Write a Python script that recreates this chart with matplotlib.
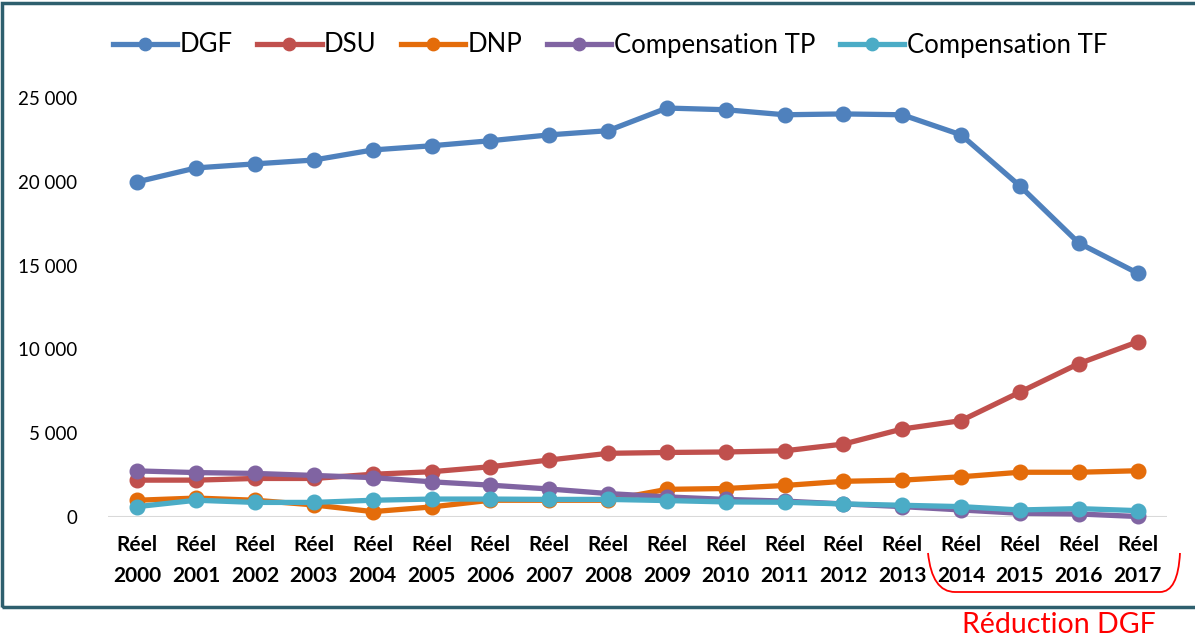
import matplotlib
matplotlib.use("Agg")
import matplotlib.pyplot as plt
from matplotlib.path import Path
from matplotlib.patches import PathPatch, Rectangle
from matplotlib.ticker import FuncFormatter

plt.rcParams['font.family'] = ['Lato', 'DejaVu Sans']

# données (millions d'euros)
annees = ["Réel\n%d" % a for a in range(2000, 2018)]
dgf = [20000, 20830, 21070, 21300, 21900, 22150, 22450, 22800, 23050,
       24400, 24300, 24000, 24050, 24000, 22800, 19750, 16350, 14550]
dsu = [2200, 2200, 2300, 2300, 2550, 2700, 3000, 3400, 3800,
       3850, 3880, 3950, 4350, 5250, 5750, 7450, 9150, 10450]
dnp = [1000, 1130, 1000, 720, 320, 600, 1000, 1000, 1000,
       1650, 1700, 1880, 2130, 2200, 2400, 2670, 2670, 2760]
comp_tp = [2750, 2650, 2600, 2480, 2350, 2100, 1900, 1670, 1400,
           1200, 1050, 950, 780, 620, 420, 220, 180, 30]
comp_tf = [620, 1000, 870, 870, 1000, 1070, 1070, 1050, 1050,
           980, 900, 880, 780, 700, 620, 420, 500, 380]

series = [("DGF", dgf, "#4F81BD"),
          ("DSU", dsu, "#C0504D"),
          ("DNP", dnp, "#E46C0A"),
          ("Compensation TP", comp_tp, "#8064A2"),
          ("Compensation TF", comp_tf, "#4BACC6")]

W, H = 1195, 640
fig = plt.figure(figsize=(W / 100, H / 100), dpi=100)
ax = fig.add_axes([108 / W, 1 - 517 / H, (1167 - 108) / W, (517 - 98) / H])

x = range(len(annees))
for nom, vals, col in series:
    ax.plot(x, vals, '-o', color=col, lw=3.8, ms=10.5, label=nom, clip_on=False)

ax.set_xlim(-0.5, len(annees) - 0.5)
ax.set_ylim(0, 25000)
ax.set_yticks(range(0, 25001, 5000))
ax.yaxis.set_major_formatter(FuncFormatter(lambda v, p: "{:,}".format(int(v)).replace(",", " ")))
ax.set_xticks(list(x))
ax.set_xticklabels(annees, fontweight='bold', fontsize=15, linespacing=1.7)
ax.tick_params(axis='y', labelsize=13.5, length=0, pad=22)
ax.tick_params(axis='x', length=0, pad=13)
for s in ax.spines.values():
    s.set_visible(False)
ax.axhline(0, color="#D9D9D9", lw=1.5, zorder=0)

fig.legend(loc='center', bbox_to_anchor=(610 / W, 1 - 45 / H), ncol=5, frameon=False,
           fontsize=18.5, handlelength=2.5, handletextpad=0.1, columnspacing=0.95,
           markerscale=0.85)

# cadre
fig.patches.append(Rectangle((2 / W, 1 - 607 / H), 1.2, (607 - 3) / H,
                             transform=fig.transFigure, fill=False,
                             edgecolor="#2E5F6E", lw=2.5))

# accolade rouge sous 2014-2017
pts = [(928, 553), (932, 592), (955, 592), (1160, 592), (1178, 592), (1180, 553)]
codes = [Path.MOVETO, Path.CURVE3, Path.CURVE3, Path.LINETO, Path.CURVE3, Path.CURVE3]
verts = [(px / W, 1 - py / H) for px, py in pts]
fig.patches.append(PathPatch(Path(verts, codes), transform=fig.transFigure,
                             fill=False, edgecolor="red", lw=1.3))
fig.text(1059 / W, 1 - 625 / H, "Réduction DGF", color="red", fontsize=20.5,
         ha='center', va='center')

fig.savefig("out.png", dpi=100)
